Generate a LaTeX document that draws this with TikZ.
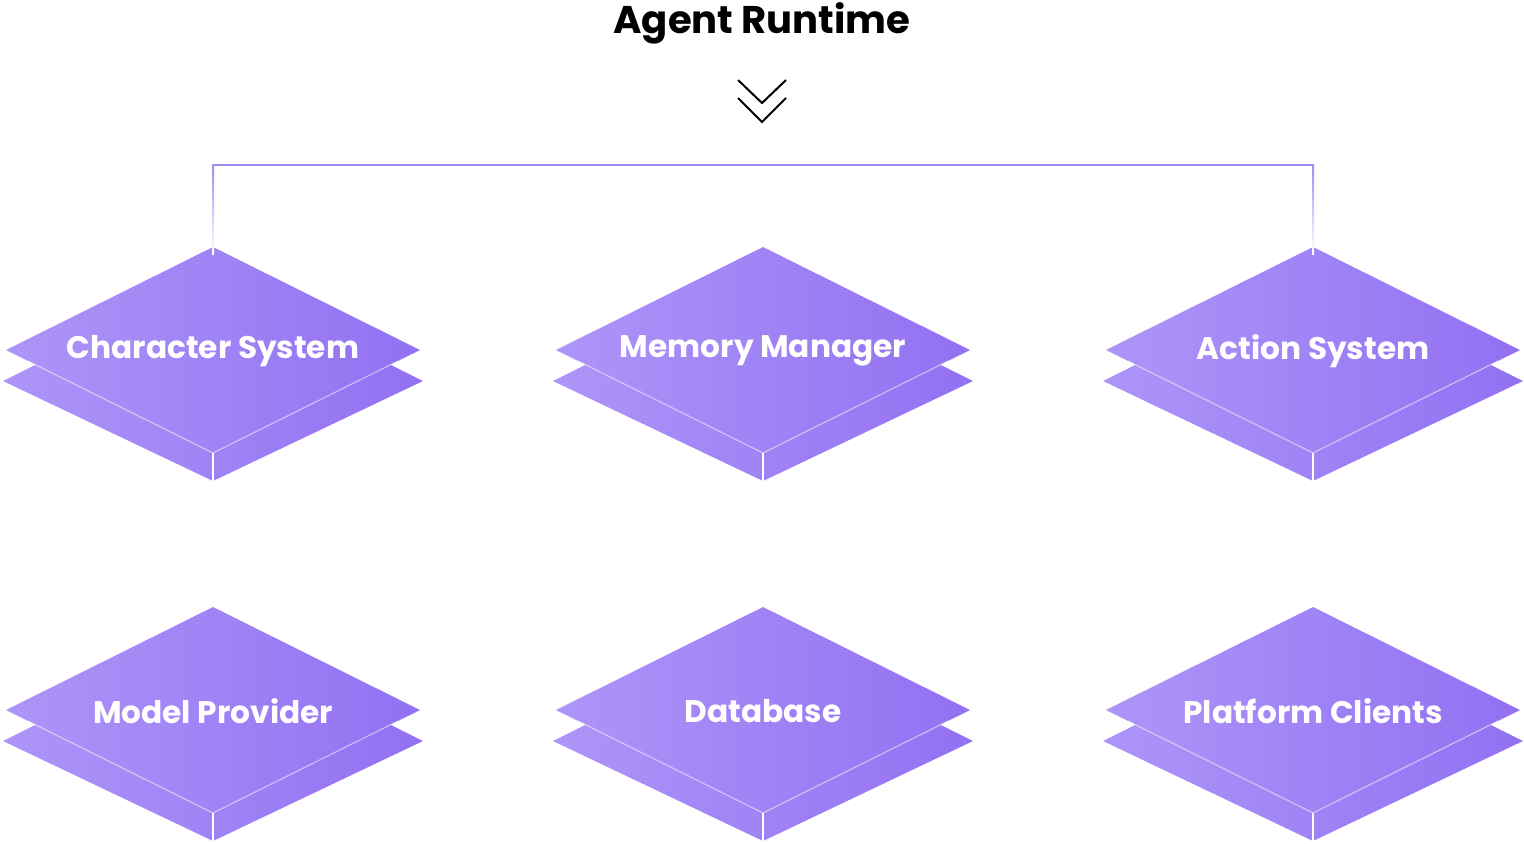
\documentclass[tikz,border=0pt]{standalone}
\usepackage{fontspec}
\setmainfont{Poppins}
\usepackage{tikz}
\usetikzlibrary{positioning}
\definecolor{slabL}{HTML}{AE95F8}
\definecolor{slabR}{HTML}{9271F2}
\definecolor{linkC}{HTML}{A68BF4}
\definecolor{fadeC}{HTML}{F4DDE8}

\begin{document}
\begin{tikzpicture}[x=0.5pt,y=0.5pt,yscale=-1,xscale=1,
  slabtext/.style={text=white,font=\bfseries\fontsize{15.6}{18}\selectfont,inner sep=0pt},
  slabfill/.style={left color=slabL,right color=slabR},
  edgeglow/.style={draw=white,draw opacity=0.5,line width=0.6pt},
  link/.style={draw=linkC,line width=1pt}]
\path[use as bounding box] (0,0) rectangle (1524,843);

% Title
\node (title) at (762,23) {\bfseries\fontsize{19.3}{22}\selectfont Agent Runtime};
% Chevrons
\draw[line width=1pt] (738,80) -- (762,103) -- (786,80);
\draw[line width=1pt] (738,98) -- (762,122) -- (786,98);

% Slabs
\foreach \cx/\cy/\nm/\txt in {213/350/cs/Character System, 763/350/mm/Memory Manager, 1313/350/as/Action System, 213/710/mp/Model Provider, 763/710/db/Database, 1313/710/pc/Platform Clients}{
  \shade[slabfill] (\cx-210,\cy+31) -- (\cx,\cy-74) -- (\cx+210,\cy+31) -- (\cx,\cy+131) -- cycle;
  \shade[slabfill] (\cx-207,\cy) -- (\cx,\cy-103) -- (\cx+207,\cy) -- (\cx,\cy+103) -- cycle;
  \draw[edgeglow] (\cx-185,\cy+11) -- (\cx,\cy+103) -- (\cx+185,\cy+11);
  \draw[white,line width=0.8pt] (\cx,\cy+103) -- (\cx,\cy+131);
  \coordinate (\nm-top) at (\cx,\cy-104);
  \node[slabtext] (\nm) at (\cx,\cy+1) {\txt};
}

% Connector
\coordinate (busL) at (213,165);
\coordinate (busR) at (1313,165);
\draw[link] ([xshift=-0.5pt]busL) -- ([xshift=0.5pt]busR);
\shade[top color=linkC,middle color=fadeC,bottom color=white] ([xshift=-0.5pt]busL) rectangle ([xshift=0.5pt,yshift=4pt]cs-top);
\shade[top color=linkC,middle color=fadeC,bottom color=white] ([xshift=-0.5pt]busR) rectangle ([xshift=0.5pt,yshift=4pt]as-top);

\end{tikzpicture}
\end{document}
